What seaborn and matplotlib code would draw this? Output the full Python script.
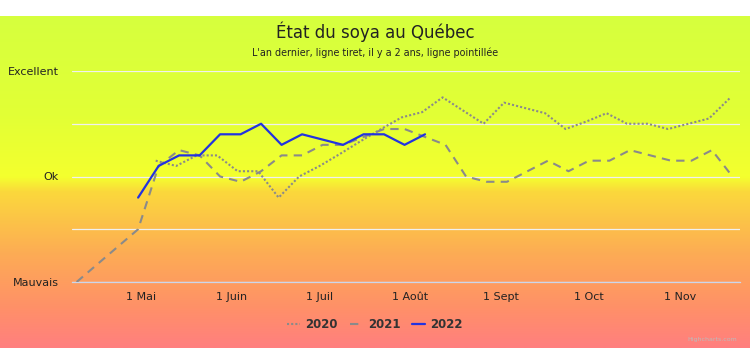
import numpy as np
import pandas as pd
import matplotlib
matplotlib.use("Agg")
import matplotlib.pyplot as plt
import matplotlib.dates as mdates
from matplotlib.colors import LinearSegmentedColormap
from matplotlib.lines import Line2D
import seaborn as sns

# ---------------- data ----------------
dates_2020 = ["05-06", "05-13", "05-20", "05-27", "06-03", "06-10", "06-17", "06-24",
              "07-01", "07-08", "07-15", "07-22", "07-29", "08-05", "08-12", "08-19",
              "08-26", "09-02", "09-09", "09-16", "09-23", "09-30", "10-07", "10-14",
              "10-21", "10-28", "11-04", "11-11", "11-18"]
vals_2020 = [2.30, 2.20, 2.40, 2.40, 2.10, 2.10, 1.60, 2.00,
             2.20, 2.43, 2.67, 2.90, 3.12, 3.22, 3.50, 3.25,
             3.00, 3.40, 3.30, 3.20, 2.90, 3.04, 3.20, 3.00,
             3.00, 2.90, 3.00, 3.10, 3.48]

dates_2021 = ["04-09", "04-30", "05-07", "05-14", "05-21", "05-28", "06-04", "06-11",
              "06-18", "06-25", "07-02", "07-09", "07-16", "07-23", "07-30", "08-06",
              "08-13", "08-20", "08-27", "09-03", "09-10", "09-17", "09-24", "10-01",
              "10-08", "10-15", "10-22", "10-29", "11-05", "11-12", "11-19"]
vals_2021 = [0.0, 1.0, 2.2, 2.5, 2.4, 2.0, 1.9, 2.1,
             2.4, 2.4, 2.6, 2.6, 2.75, 2.9, 2.9, 2.75,
             2.6, 2.0, 1.9, 1.9, 2.1, 2.3, 2.1, 2.3,
             2.3, 2.5, 2.4, 2.3, 2.3, 2.5, 2.0]

dates_2022 = ["04-30", "05-07", "05-14", "05-21", "05-28", "06-04", "06-11", "06-18",
              "06-25", "07-02", "07-09", "07-16", "07-23", "07-30", "08-06"]
vals_2022 = [1.6, 2.2, 2.4, 2.4, 2.8, 2.8, 3.0, 2.6,
             2.8, 2.7, 2.6, 2.8, 2.8, 2.6, 2.8]

series_names = ["2020", "2021", "2022"]
y_labels = ["Mauvais", "", "Ok", "", "Excellent"]
x_tick_dates = ["05-01", "06-01", "07-01", "08-01", "09-01", "10-01", "11-01"]
x_tick_labels = ["1 Mai", "1 Juin", "1 Juil", "1 Août", "1 Sept", "1 Oct", "1 Nov"]

title = "État du soya au Québec"
subtitle = "L'an dernier, ligne tiret, il y a 2 ans, ligne pointillée"

REF_YEAR = "2022-"


def to_dt(lst):
    return pd.to_datetime([REF_YEAR + d for d in lst])


df = pd.concat([
    pd.DataFrame({"date": to_dt(dates_2020), "value": vals_2020, "year": "2020"}),
    pd.DataFrame({"date": to_dt(dates_2021), "value": vals_2021, "year": "2021"}),
    pd.DataFrame({"date": to_dt(dates_2022), "value": vals_2022, "year": "2022"}),
], ignore_index=True)

# ---------------- figure ----------------
sns.set_theme(style="white")
plt.rcParams["font.family"] = ["DejaVu Sans"]

W, H = 750, 362
fig = plt.figure(figsize=(W / 100, H / 100), dpi=100)
fig.patch.set_facecolor("white")

# gradient background band
bg = fig.add_axes([0, 14 / H, 1, 332 / H], zorder=-10)
cmap = LinearSegmentedColormap.from_list(
    "bg",
    [(0.0, "#d6ff3e"), (0.30, "#e2ff35"), (0.485, "#f4ff2e"), (0.53, "#fbd83c"),
     (0.72, "#fdab55"), (0.88, "#ff9068"), (1.0, "#ff7f7f")])
grad = np.linspace(0, 1, 512).reshape(-1, 1)
bg.imshow(grad, aspect="auto", cmap=cmap, origin="upper", extent=[0, 1, 0, 1])
bg.set_axis_off()

ax = fig.add_axes([72 / W, 80 / H, 668 / W, 211 / H])
ax.set_facecolor("none")

styles = {
    "2020": dict(color="#8a8a8a", linestyle=(0, (1, 1)), lw=1.5, zorder=3),
    "2021": dict(color="#8a8a8a", linestyle=(0, (4, 3)), lw=1.5, zorder=3),
    "2022": dict(color="#2233e0", linestyle="-", lw=1.6, zorder=4),
}
for name in series_names:
    sub = df[df["year"] == name]
    sns.lineplot(data=sub, x="date", y="value", ax=ax, legend=False,
                 **styles[name])

ax.set_ylim(0, 4)
ax.set_xlim(pd.Timestamp(REF_YEAR + "04-07 10:00"), pd.Timestamp(REF_YEAR + "11-21 14:00"))
ax.set_yticks(range(5))
ax.set_yticklabels(y_labels)
ax.set_xticks(to_dt(x_tick_dates))
ax.set_xticklabels(x_tick_labels)
ax.set_xlabel("")
ax.set_ylabel("")

ax.grid(axis="y", color="#f0f0f0", lw=0.9)
ax.grid(axis="x", visible=False)
for s in ["top", "right", "left"]:
    ax.spines[s].set_visible(False)
ax.spines["bottom"].set_color("#ccd6eb")
ax.spines["bottom"].set_linewidth(0.9)
ax.tick_params(axis="y", length=0, pad=9.4, labelsize=8, labelcolor="#222222")
ax.tick_params(axis="x", length=4, width=0.8, color="#ccd6eb", pad=3,
               labelsize=8, labelcolor="#222222", direction="out")

fig.text(0.5, 1 - 32 / H, title, ha="center", va="center", fontsize=12, color="#222222")
fig.text(0.5, 1 - 53 / H, subtitle, ha="center", va="center", fontsize=6.95, color="#222222")

handles = [Line2D([], [], **{k: v for k, v in styles[n].items() if k != "zorder"})
           for n in series_names]
leg = fig.legend(handles, series_names, loc="center", bbox_to_anchor=(375 / W, 1 - 325 / H),
                 ncol=3, frameon=False, handlelength=1.1, columnspacing=1.0,
                 handletextpad=0.45, prop={"weight": "bold", "size": 8.5})
for t in leg.get_texts():
    t.set_color("#333333")

fig.text(737 / W, 1 - 339 / H, "Highcharts.com", ha="right", va="center",
         fontsize=4.5, color="#bbbbbb")

fig.savefig("out.png", dpi=100)
